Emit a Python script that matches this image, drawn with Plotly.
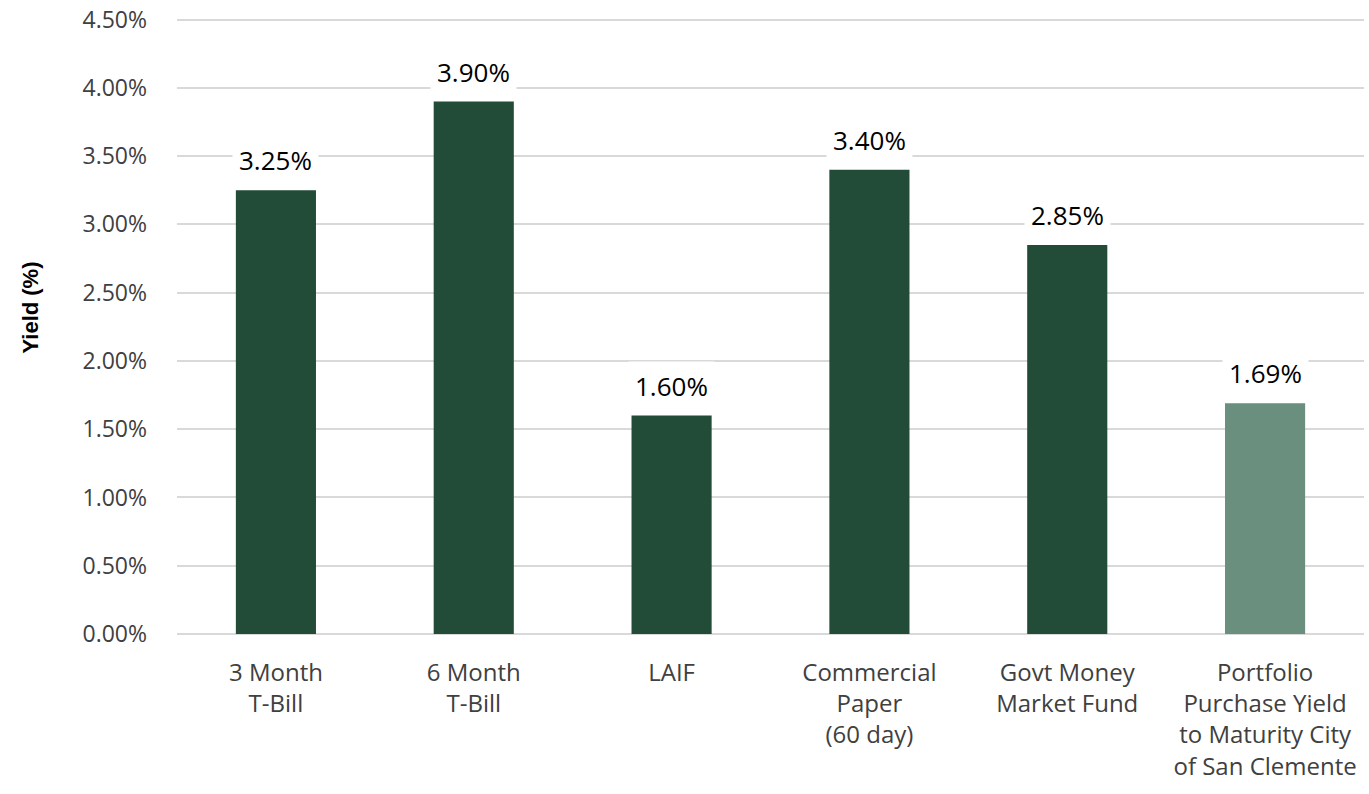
import plotly.graph_objects as go

categories = ["3 Month<br>T-Bill", "6 Month<br>T-Bill", "LAIF",
              "Commercial<br>Paper<br>(60 day)", "Govt Money<br>Market Fund",
              "Portfolio<br>Purchase Yield<br>to Maturity City<br>of San Clemente"]
yields = [3.25, 3.90, 1.60, 3.40, 2.85, 1.69]
bar_colors = ["#224b38", "#224b38", "#224b38", "#224b38", "#224b38", "#6a8f7e"]
tick_vals = [0, 0.5, 1.0, 1.5, 2.0, 2.5, 3.0, 3.5, 4.0, 4.5]
tick_text = [f"{v:.2f}%" for v in tick_vals]

fig = go.Figure()
fig.add_trace(go.Bar(x=categories, y=yields, marker_color=bar_colors,
                     marker_line_width=0, hoverinfo="skip"))

# data labels sit on a white box, so gridlines break around them
for cat, val in zip(categories, yields):
    fig.add_annotation(x=cat, y=val, text=f"{val:.2f}%", showarrow=False,
                       yanchor="bottom", yshift=5, bgcolor="white",
                       borderpad=6,
                       font=dict(family="Open Sans", size=26, color="#000000"))

# axis title placed by hand (sits a little above the plot centre)
fig.add_annotation(text="<b>Yield (%)</b>", textangle=-90, showarrow=False,
                   xref="paper", yref="paper", x=-0.1238, y=0.53,
                   xanchor="center", yanchor="middle",
                   font=dict(family="Liberation Sans", size=22, color="#000000"))

fig.update_layout(
    width=1369, height=794,
    margin=dict(l=177, r=5, t=18, b=160),
    plot_bgcolor="white", paper_bgcolor="white",
    bargap=0.595, showlegend=False,
    font=dict(family="Open Sans", size=23, color="#404040"),
    xaxis=dict(showgrid=False, showline=False, ticks="", automargin=False,
               ticklabelstandoff=22,
               tickfont=dict(size=24, color="#404040")),
    # top slightly above 4.5 so plotly keeps the 4.50% gridline
    yaxis=dict(range=[0, 4.512], tickvals=tick_vals, ticktext=tick_text,
               showgrid=True, gridcolor="#d9d9d9", gridwidth=1.5,
               zeroline=True, zerolinecolor="#d9d9d9", zerolinewidth=1.5,
               ticks="", ticklen=0, ticklabelstandoff=29, automargin=False,
               ticklabeloverflow="allow",
               tickfont=dict(size=23, color="#404040")),
)

fig.write_html("out.html", config={"displayModeBar": False},
               post_script="document.body.style.margin='0';")
